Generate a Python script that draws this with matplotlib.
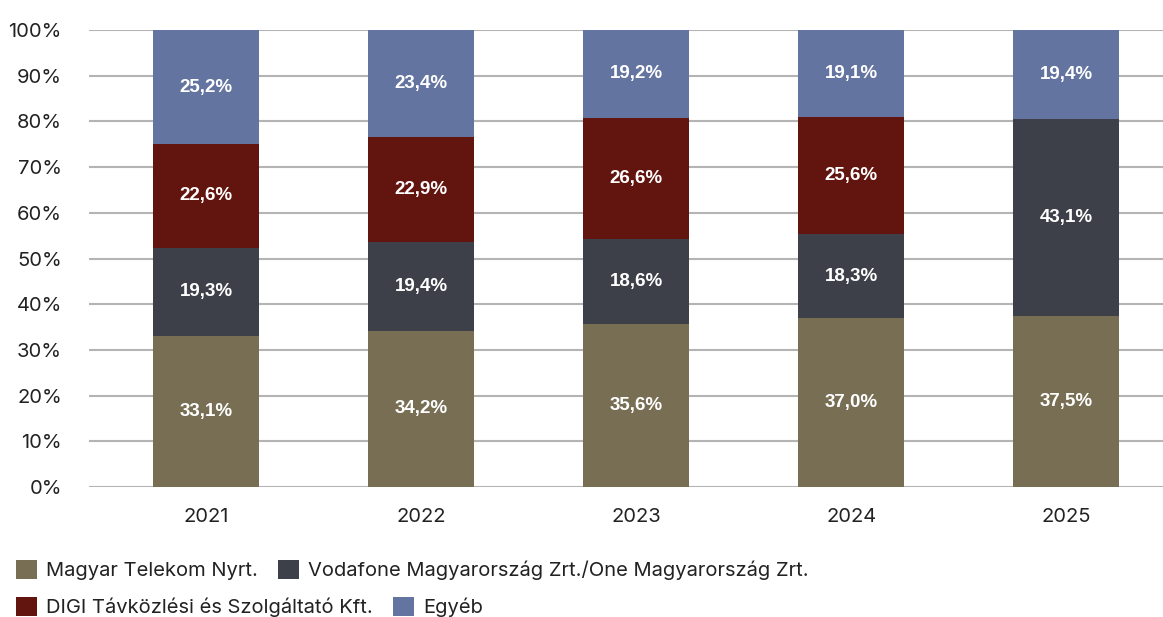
import numpy as np
import matplotlib.pyplot as plt
from matplotlib.patches import Patch

years = ['2021', '2022', '2023', '2024', '2025']
telekom = [33.1, 34.2, 35.6, 37.0, 37.5]
vodafone = [19.3, 19.4, 18.6, 18.3, 43.1]
digi = [22.6, 22.9, 26.6, 25.6, 0.0]
egyeb = [25.2, 23.4, 19.2, 19.1, 19.4]

names = ['Magyar Telekom Nyrt.', 'Vodafone Magyarország Zrt./One Magyarország Zrt.',
         'DIGI Távközlési és Szolgáltató Kft.', 'Egyéb']
colors = ['#776e53', '#3e4049', '#62140f', '#6374a0']

plt.rcParams['font.family'] = ['Inter', 'DejaVu Sans']

fig = plt.figure(figsize=(11.63, 6.17), dpi=100)
ax = fig.add_axes([89/1163, 1-487/617, 1-89/1163, (487-30)/617])

x = np.arange(len(years))
bottom = np.zeros(len(years))
for vals, c in zip([telekom, vodafone, digi, egyeb], colors):
    vals = np.array(vals)
    ax.bar(x, vals, 0.493, bottom=bottom, color=c, zorder=2)
    for i, v in enumerate(vals):
        if v > 0:
            top = min(bottom[i] + v, 100)
            ax.text(x[i], (bottom[i] + top) / 2, f'{v:.1f}%'.replace('.', ','),
                    ha='center', va='center', color='white', fontsize=13.5,
                    fontweight='bold', family=['Liberation Sans', 'DejaVu Sans'], zorder=3)
    bottom += vals

ax.set_ylim(0, 100)
ax.set_xlim(-0.544, 4.45)
ax.set_yticks(range(0, 101, 10))
ax.set_yticklabels([f'{t}%' for t in range(0, 101, 10)], fontsize=14.5, color='#222222')
ax.set_xticks(x)
ax.set_xticklabels(years, fontsize=14.5, color='#222222')
ax.tick_params(axis='y', length=0, pad=19.5)
ax.tick_params(axis='x', length=0, pad=15)
ax.yaxis.grid(True, color='#b4b4b4', linewidth=1.5, zorder=0)
ax.set_axisbelow(True)
for s in ax.spines.values():
    s.set_visible(False)

h = [Patch(facecolor=c) for c in colors]
kw = dict(frameon=False, fontsize=14.5, handlelength=1.05, handleheight=1.05,
          handletextpad=0.45, columnspacing=1.0, borderaxespad=0, labelcolor='#222222')
fig.legend(h[:2], names[:2], ncol=2, loc='center left',
           bbox_to_anchor=(8/1163, 1-570/617), **kw)
fig.legend(h[2:], names[2:], ncol=2, loc='center left',
           bbox_to_anchor=(8/1163, 1-607/617), **kw)

fig.savefig('out.png', dpi=100)
